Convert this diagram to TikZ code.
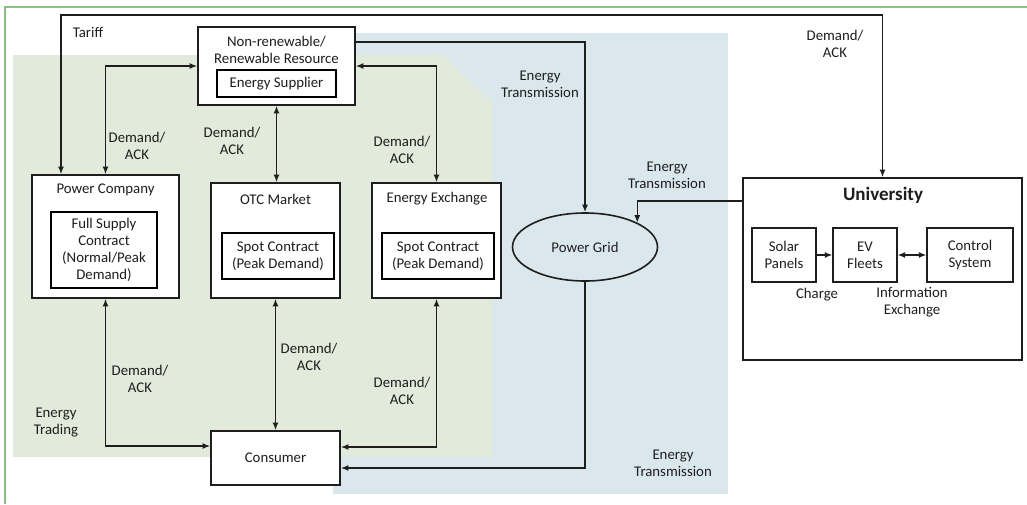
\documentclass[tikz,border=0pt]{standalone}
\usepackage{fontspec}
\setmainfont{Carlito}
\usetikzlibrary{arrows.meta,positioning,calc,shapes.geometric}
\definecolor{tradegreen}{HTML}{E1EADB}
\definecolor{gridblue}{HTML}{DAE8EE}
\definecolor{framegreen}{HTML}{8CBF86}
\definecolor{ink}{HTML}{1E1E1E}

\begin{document}
\begin{tikzpicture}[x=1pt,y=-1pt,>={Latex[length=7.5pt,width=6pt]},
  every node/.style={font=\fontsize{14.8}{17}\selectfont,text=ink,align=center},
  outer/.style={draw=ink,fill=white,line width=1.8pt},
  inner/.style={draw=black,fill=white,line width=2.6pt,inner sep=2pt},
  unit/.style={draw=ink,fill=white,line width=1.4pt,minimum height=54pt},
  link/.style={draw=ink,line width=1.3pt}]
\useasboundingbox (0,0) rectangle (1027,504);
% areas
\fill[gridblue] (333,33) rectangle (728,494);
\fill[tradegreen] (13,55)--(443,55)--(493,103)--(493,457)--(13,457)--cycle;
\draw[framegreen,line width=1.5pt] (5,504)--(5,7)--(1027,7);
% trading side
\node[outer,minimum width=157pt,minimum height=78pt] (sup) at (276.5,66) {};
\node (suptitle) at (276.5,49.5) {Non-renewable/\\Renewable Resource};
\node[inner,minimum width=119pt,minimum height=27pt] (supbox) at (276.5,83.5) {Energy Supplier};
\node[outer,minimum width=147pt,minimum height=123pt] (pc) at (105.5,236.5) {};
\node (pctitle) at (105.5,190) {Power Company};
\node[inner,minimum width=106pt,minimum height=76pt] (pcbox) at (104,250) {Full Supply\\Contract\\(Normal/Peak\\Demand)};
\node[outer,minimum width=129pt,minimum height=115pt] (otc) at (275.5,240.5) {};
\node (otctitle) at (275.5,199) {OTC Market};
\node[inner,minimum width=112pt,minimum height=46pt] (otcbox) at (278,256) {Spot Contract\\(Peak Demand)};
\node[outer,minimum width=129pt,minimum height=115pt] (ee) at (436.5,240.5) {};
\node (eetitle) at (437,199) {Energy Exchange};
\node[inner,minimum width=112pt,minimum height=46pt] (eebox) at (438,256) {Spot Contract\\(Peak Demand)};
\node[outer,minimum width=129pt,minimum height=54pt] (con) at (275.5,458) {Consumer};
\node[ellipse,draw=ink,fill=gridblue,line width=1.6pt,minimum width=145pt,minimum height=68pt,inner sep=0pt] (grid) at (585,247) {Power Grid};
% university
\node[outer,minimum width=279pt,minimum height=182pt] (uni) at (882.5,269) {};
\node (unititle) at (883,195) {\fontsize{19}{21}\selectfont\bfseries University};
\node[unit,minimum width=64pt] (solar) at (784,255) {Solar\\Panels};
\node[unit,minimum width=64pt] (ev) at (865,255) {EV\\Fleets};
\node[unit,minimum width=86pt] (ctrl) at (970,255) {Control\\System};
\draw[link,->] (solar) -- (ev);\draw[link,<->] (ev) -- (ctrl);
\node (charge) at (817,295) {Charge};\node (infoex) at (912,302) {Information\\Exchange};
% connectors
\coordinate (tl) at (61,15);
\draw[link,<->] (tl |- pc.north) -- (tl) -| (uni.north);
\draw[link,->] ([yshift=24pt]sup.east) -| (grid.north);
\draw[link,<->] (sup.west) -| (pc.north);\draw[link,<->] (sup.east) -| (ee.north);
\draw[link,<->] (sup.south) -- (sup.south |- otc.north);
\draw[link,->] ([yshift=68pt]uni.west) -| (grid.25);
\draw[link,->] (grid.south) |- ([yshift=-10pt]con.east);
\draw[link,<->] (pc.south) |- ([yshift=12pt]con.west);
\draw[link,<->] (otc.south) -- (otc.south |- con.north);
\draw[link,<->] (ee.south) |- ([yshift=11pt]con.east);
% labels
\node (tariff) at (88,32) {Tariff};
\foreach \n/\x/\y in {a/835/44,b/137/146,c/232/141,d/402/150,e/140/379,f/309/357,g/402/391}{\node (dack\n) at (\x,\y) {Demand/\\ACK};}
\foreach \n/\x/\y in {a/540/84,b/667/175,c/673/463}{\node (etx\n) at (\x,\y) {Energy\\Transmission};}
\node (trading) at (56,423) {Energy\\Trading};
\end{tikzpicture}
\end{document}
